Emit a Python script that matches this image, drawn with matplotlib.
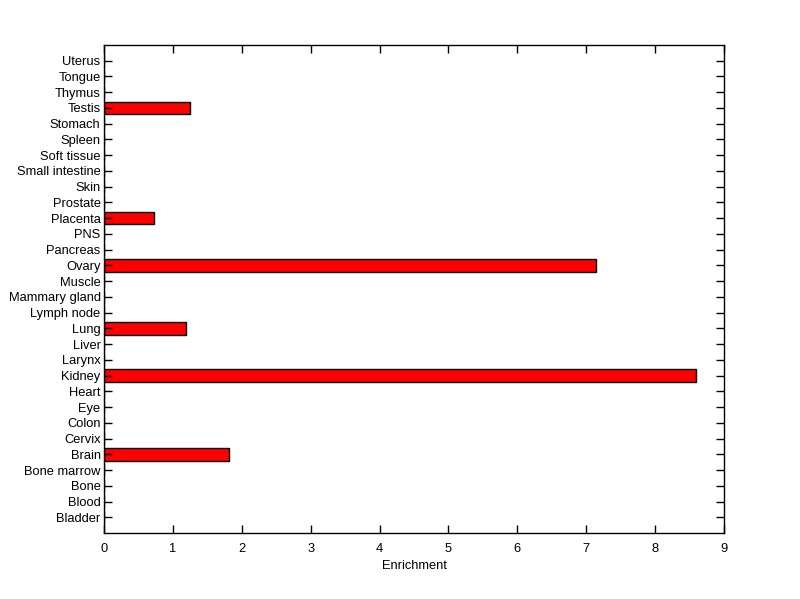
import numpy as np
import matplotlib
matplotlib.use("Agg")
import matplotlib.pyplot as plt

tissues = ['Bladder', 'Blood', 'Bone', 'Bone marrow', 'Brain', 'Cervix', 'Colon',
           'Eye', 'Heart', 'Kidney', 'Larynx', 'Liver', 'Lung', 'Lymph node',
           'Mammary gland', 'Muscle', 'Ovary', 'Pancreas', 'PNS', 'Placenta',
           'Prostate', 'Skin', 'Small intestine', 'Soft tissue', 'Spleen',
           'Stomach', 'Testis', 'Thymus', 'Tongue', 'Uterus']
enrichment = [0, 0, 0, 0, 1.82, 0, 0,
              0, 0, 8.59, 0, 0, 1.19, 0,
              0, 0, 7.14, 0, 0, 0.72,
              0, 0, 0, 0, 0,
              0, 1.25, 0, 0, 0]
x_ticks = [0, 1, 2, 3, 4, 5, 6, 7, 8, 9]

plt.rcParams['font.family'] = ['Liberation Sans', 'DejaVu Sans']
fig = plt.figure(figsize=(8, 5.99), dpi=100)
ax = fig.add_axes([0.13, 0.110, 0.775, 0.815])

pos = np.arange(1, len(tissues) + 1)
ax.barh(pos, enrichment, height=0.8, color='#ff0000', edgecolor='black', linewidth=1)

ax.set_xlim(0, 9)
ax.set_ylim(0, len(tissues) + 1)
ax.set_xticks(x_ticks)
ax.set_yticks(pos)
ax.set_yticklabels(tissues)
ax.set_xlabel('Enrichment', fontsize=9.3, labelpad=4)
ax.tick_params(direction='in', length=6, width=1, labelsize=9.3,
               top=True, right=True)
ax.tick_params(axis='x', pad=7)
ax.tick_params(axis='y', pad=2.5)
for s in ax.spines.values():
    s.set_linewidth(1)

fig.savefig('out.png', dpi=100)
